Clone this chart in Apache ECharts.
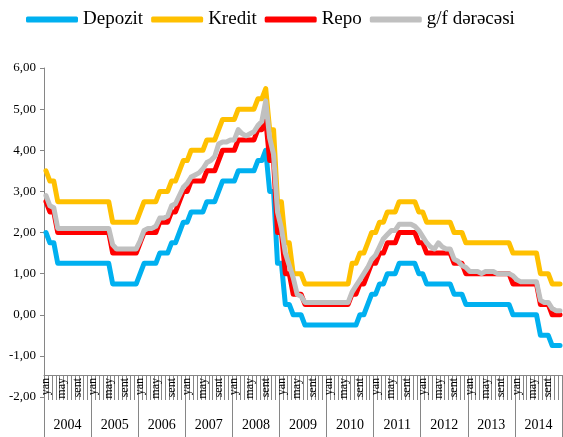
<!DOCTYPE html>
<html>
<head>
<meta charset="utf-8">
<script src="https://cdn.jsdelivr.net/npm/echarts@6/dist/echarts.min.js"></script>
<style>
    html, body { margin: 0; padding: 0; background: #fff; }
    #chart { width: 563px; height: 437px; }
</style>
</head>
<body>
<div id="chart"></div>
<script>
const years = ['2004', '2005', '2006', '2007', '2008', '2009', '2010', '2011', '2012', '2013', '2014'];
const monthNames = ['yan', 'fev', 'mar', 'apr', 'may', 'iyn', 'iyl', 'avq', 'sent', 'okt', 'noy', 'dek'];

// monthly values, Jan 2004 .. Dec 2014 (one row per year)
const depozit = [
    2.00, 1.75, 1.75, 1.25, 1.25, 1.25, 1.25, 1.25, 1.25, 1.25, 1.25, 1.25,
    1.25, 1.25, 1.25, 1.25, 1.25, 0.75, 0.75, 0.75, 0.75, 0.75, 0.75, 0.75,
    1.00, 1.25, 1.25, 1.25, 1.25, 1.50, 1.50, 1.50, 1.75, 1.75, 2.00, 2.25,
    2.25, 2.50, 2.50, 2.50, 2.50, 2.75, 2.75, 2.75, 3.00, 3.25, 3.25, 3.25,
    3.25, 3.50, 3.50, 3.50, 3.50, 3.50, 3.75, 3.75, 4.00, 3.00, 3.00, 1.25,
    1.25, 0.25, 0.25, 0.00, 0.00, 0.00, -0.25, -0.25, -0.25, -0.25, -0.25, -0.25,
    -0.25, -0.25, -0.25, -0.25, -0.25, -0.25, -0.25, -0.25, 0.00, 0.00, 0.25, 0.50,
    0.50, 0.75, 0.75, 1.00, 1.00, 1.00, 1.25, 1.25, 1.25, 1.25, 1.25, 1.00,
    1.00, 0.75, 0.75, 0.75, 0.75, 0.75, 0.75, 0.75, 0.50, 0.50, 0.50, 0.25,
    0.25, 0.25, 0.25, 0.25, 0.25, 0.25, 0.25, 0.25, 0.25, 0.25, 0.25, 0.00,
    0.00, 0.00, 0.00, 0.00, 0.00, 0.00, -0.50, -0.50, -0.50, -0.75, -0.75, -0.75
];
const kredit = [
    3.50, 3.25, 3.25, 2.75, 2.75, 2.75, 2.75, 2.75, 2.75, 2.75, 2.75, 2.75,
    2.75, 2.75, 2.75, 2.75, 2.75, 2.25, 2.25, 2.25, 2.25, 2.25, 2.25, 2.25,
    2.50, 2.75, 2.75, 2.75, 2.75, 3.00, 3.00, 3.00, 3.25, 3.25, 3.50, 3.75,
    3.75, 4.00, 4.00, 4.00, 4.00, 4.25, 4.25, 4.25, 4.50, 4.75, 4.75, 4.75,
    4.75, 5.00, 5.00, 5.00, 5.00, 5.00, 5.25, 5.25, 5.50, 4.50, 4.50, 2.75,
    2.75, 1.75, 1.75, 1.00, 1.00, 1.00, 0.75, 0.75, 0.75, 0.75, 0.75, 0.75,
    0.75, 0.75, 0.75, 0.75, 0.75, 0.75, 1.25, 1.25, 1.50, 1.50, 1.75, 2.00,
    2.00, 2.25, 2.25, 2.50, 2.50, 2.50, 2.75, 2.75, 2.75, 2.75, 2.75, 2.50,
    2.50, 2.25, 2.25, 2.25, 2.25, 2.25, 2.25, 2.25, 2.00, 2.00, 2.00, 1.75,
    1.75, 1.75, 1.75, 1.75, 1.75, 1.75, 1.75, 1.75, 1.75, 1.75, 1.75, 1.50,
    1.50, 1.50, 1.50, 1.50, 1.50, 1.50, 1.00, 1.00, 1.00, 0.75, 0.75, 0.75
];
const repo = [
    2.75, 2.50, 2.50, 2.00, 2.00, 2.00, 2.00, 2.00, 2.00, 2.00, 2.00, 2.00,
    2.00, 2.00, 2.00, 2.00, 2.00, 1.50, 1.50, 1.50, 1.50, 1.50, 1.50, 1.50,
    1.75, 2.00, 2.00, 2.00, 2.00, 2.25, 2.25, 2.25, 2.50, 2.50, 2.75, 3.00,
    3.00, 3.25, 3.25, 3.25, 3.25, 3.50, 3.50, 3.50, 3.75, 4.00, 4.00, 4.00,
    4.00, 4.25, 4.25, 4.25, 4.25, 4.25, 4.50, 4.50, 4.75, 3.75, 3.75, 2.00,
    2.00, 1.00, 1.00, 0.50, 0.50, 0.50, 0.25, 0.25, 0.25, 0.25, 0.25, 0.25,
    0.25, 0.25, 0.25, 0.25, 0.25, 0.25, 0.50, 0.50, 0.75, 0.75, 1.00, 1.25,
    1.25, 1.50, 1.50, 1.75, 1.75, 1.75, 2.00, 2.00, 2.00, 2.00, 2.00, 1.75,
    1.75, 1.50, 1.50, 1.50, 1.50, 1.50, 1.50, 1.50, 1.25, 1.25, 1.25, 1.00,
    1.00, 1.00, 1.00, 1.00, 1.00, 1.00, 1.00, 1.00, 1.00, 1.00, 1.00, 0.75,
    0.75, 0.75, 0.75, 0.75, 0.75, 0.75, 0.25, 0.25, 0.25, 0.00, 0.00, 0.00
];
const gfRate = [
    2.90, 2.65, 2.60, 2.10, 2.10, 2.10, 2.10, 2.10, 2.10, 2.10, 2.10, 2.10,
    2.10, 2.10, 2.10, 2.10, 2.10, 1.70, 1.60, 1.60, 1.60, 1.60, 1.60, 1.60,
    1.80, 2.05, 2.10, 2.10, 2.15, 2.35, 2.35, 2.40, 2.65, 2.70, 2.90, 3.10,
    3.20, 3.35, 3.40, 3.45, 3.55, 3.70, 3.75, 3.85, 4.15, 4.20, 4.20, 4.25,
    4.25, 4.50, 4.40, 4.35, 4.40, 4.45, 4.60, 4.70, 5.20, 4.30, 3.90, 2.50,
    2.10, 1.50, 1.20, 0.90, 0.50, 0.45, 0.30, 0.30, 0.30, 0.30, 0.30, 0.30,
    0.30, 0.30, 0.30, 0.30, 0.30, 0.30, 0.55, 0.70, 0.85, 1.00, 1.15, 1.35,
    1.45, 1.65, 1.85, 1.95, 2.05, 2.05, 2.20, 2.20, 2.20, 2.20, 2.15, 2.05,
    1.90, 1.75, 1.65, 1.60, 1.75, 1.65, 1.60, 1.60, 1.35, 1.30, 1.20, 1.15,
    1.05, 1.05, 1.05, 1.00, 1.05, 1.05, 1.05, 1.00, 1.00, 1.00, 1.00, 0.95,
    0.85, 0.80, 0.80, 0.80, 0.80, 0.80, 0.35, 0.30, 0.30, 0.15, 0.10, 0.10
];

const seriesNames = ['Depozit', 'Kredit', 'Repo', 'g/f dərəcəsi'];
const seriesColors = ['#00B0F0', '#FFC000', '#FF0000', '#C0C0C0'];

const months = [];
years.forEach(y => monthNames.forEach((m, i) => months.push(y + '-' + (i + 1))));

const FONT = 'Liberation Serif';
const axisGray = '#868686';

function makeSeries(name, data, color) {
    return {
        name: name,
        type: 'line',
        data: data,
        xAxisIndex: 0,
        showSymbol: false,
        symbol: 'none',
        animation: false,
        itemStyle: { color: color },
        lineStyle: { color: color, width: 5, join: 'round', cap: 'round' }
    };
}

const chart = echarts.init(document.getElementById('chart'));
chart.setOption({
    animation: false,
    color: seriesColors,
    legend: {
        left: 21,
        top: 5,
        icon: 'roundRect',
        itemWidth: 52,
        itemHeight: 6,
        itemGap: 8,
        textStyle: { fontFamily: FONT, fontSize: 19, color: '#000' },
        data: seriesNames
    },
    grid: { left: 44, right: 1, top: 68, bottom: 40, containLabel: false },
    xAxis: [
        {
            type: 'category',
            position: 'bottom',
            offset: -22,
            data: months,
            boundaryGap: true,
            axisLine: { show: true, onZero: false, lineStyle: { color: axisGray, width: 1 } },
            axisTick: { show: true, interval: 0, length: 25, lineStyle: { color: axisGray } },
            axisLabel: {
                interval: 3,
                rotate: 90,
                margin: 3,
                fontFamily: FONT,
                fontSize: 12,
                color: '#000',
                formatter: v => monthNames[+v.split('-')[1] - 1]
            },
            splitLine: { show: false }
        },
        {
            type: 'category',
            position: 'bottom',
            offset: -22,
            data: years,
            boundaryGap: true,
            axisLine: { show: false, onZero: false },
            axisTick: { show: true, interval: 0, length: 62, lineStyle: { color: axisGray } },
            axisLabel: {
                interval: 0,
                margin: 43,
                fontFamily: FONT,
                fontSize: 14,
                color: '#000'
            },
            splitLine: { show: false }
        }
    ],
    yAxis: {
        type: 'value',
        min: -2,
        max: 6,
        interval: 1,
        axisLine: { show: true, lineStyle: { color: axisGray } },
        axisTick: { show: true, length: 4, lineStyle: { color: axisGray } },
        axisLabel: {
            margin: 8,
            fontFamily: FONT,
            fontSize: 13,
            color: '#000',
            formatter: v => v.toFixed(2).replace('.', ',')
        },
        splitLine: { show: false }
    },
    series: [
        makeSeries(seriesNames[0], depozit, seriesColors[0]),
        makeSeries(seriesNames[1], kredit, seriesColors[1]),
        makeSeries(seriesNames[2], repo, seriesColors[2]),
        makeSeries(seriesNames[3], gfRate, seriesColors[3])
    ]
});
</script>
</body>
</html>
